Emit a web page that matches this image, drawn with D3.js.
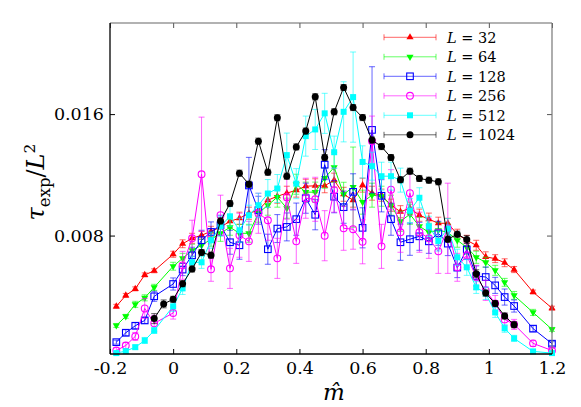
<!DOCTYPE html>
<html><head><meta charset="utf-8">
<script src="https://cdn.jsdelivr.net/npm/d3@7"></script>
<style>
body{margin:0;background:#fff}
svg{display:block}
text{font-family:"DejaVu Serif",serif;fill:#000}
</style>
</head><body>
<svg id="chart" width="581" height="407"></svg>
<script>
// ---- data ----
const mHat = [-0.18,-0.15,-0.12,-0.09,-0.06,-0.03,0,0.03,0.06,0.09,0.12,0.15,0.18,0.21,0.24,0.27,0.3,0.33,0.36,0.39,0.42,0.45,0.48,0.51,0.54,0.57,0.6,0.63,0.66,0.69,0.72,0.75,0.78,0.81,0.84,0.87,0.9,0.93,0.96,0.99,1.02,1.05,1.08,1.11,1.14,1.17,1.2];

const tau32 = [0.00334,0.00406,0.00449,0.00541,0.00568,null,0.00677,0.00746,0.00782,0.00802,0.00828,0.00855,0.00894,0.00914,0.00947,0.00967,0.01033,0.01059,0.01079,0.01099,0.01125,0.01128,0.01128,0.01165,0.01072,0.01033,0.01132,0.01079,0.01066,0.01000,0.00957,0.00980,0.00934,0.00908,0.00881,0.00881,0.00809,0.00769,0.00736,0.00660,0.00648,0.00621,0.00576,null,0.00428,null,0.00322];
const err32 = [0.00013,0.00013,0.00013,0.00013,0.00013,null,0.0002,0.00026,0.00033,0.00026,0.00033,0.00033,0.0004,0.0004,0.0004,0.0004,0.00046,0.00046,0.00046,0.00046,0.00046,0.00046,0.00046,0.00046,0.00046,0.00046,0.00046,0.00046,0.0004,0.0004,0.0004,0.0004,0.0004,0.0004,0.0004,0.00033,0.00033,0.00033,0.00033,0.00033,0.00026,0.00026,0.0002,null,0.00013,null,0.00013];

const tau64 = [0.00208,0.00268,0.00347,0.00390,0.00459,null,0.00598,0.00650,0.00703,0.00736,0.00776,0.00815,0.00855,0.00815,0.00815,0.00947,0.01000,0.01053,0.00980,0.01138,0.01086,0.01086,0.01178,0.01250,0.01072,0.01119,0.01020,0.01066,0.01059,0.01000,0.00894,0.00940,0.00861,0.00822,0.00835,0.00822,0.00769,0.00723,0.00657,0.00624,0.00571,0.00492,0.00406,null,0.00294,null,0.00182];
const err64 = [0.00013,0.00013,0.0002,0.0002,0.0002,null,0.00026,0.00033,0.0004,0.0004,0.00046,0.00053,0.00053,0.00059,0.00059,0.00059,0.00066,0.00066,0.00066,0.00066,0.00066,0.00066,0.00066,0.00099,0.00079,0.00264,0.00079,0.00079,0.00066,0.00066,0.00066,0.00066,0.00059,0.00059,0.00053,0.00053,0.00046,0.00046,0.0004,0.00033,0.00033,0.00026,0.00026,null,0.0002,null,0.00013];

const tau128 = [0.00098,0.00160,0.00206,0.00241,0.00400,null,0.00481,0.00576,0.00670,0.00769,0.00824,0.00868,0.00756,0.00736,0.01130,0.00967,0.00710,0.00846,0.00857,0.00908,0.01046,0.00937,0.01267,0.01056,0.00987,0.01088,0.00851,0.01496,0.01062,0.00908,0.00756,0.00776,0.00795,0.00762,0.00815,0.00747,0.00589,0.00708,0.00534,0.00527,0.00472,0.00395,0.00336,null,0.00187,null,0.00088];
const err128 = [0.00013,0.0002,0.0002,0.0002,0.00033,null,0.0004,0.0004,0.00053,0.00066,0.00066,0.00066,0.00079,0.00092,0.00185,0.00092,0.00099,0.00092,0.00092,0.00106,0.00099,0.00099,0.00099,0.00106,0.00106,0.00119,0.00132,0.00416,0.00106,0.00106,0.00119,0.00106,0.00092,0.00079,0.00079,0.00079,0.00066,0.00066,0.00066,0.00066,0.00053,0.00053,0.0004,null,0.0002,null,0.00013];

const tau256 = [0.00043,0.00076,0.00136,0.00320,0.00222,null,0.00290,0.00604,0.00782,0.01204,0.00578,0.00934,0.00584,0.00802,0.00762,0.00947,0.00901,0.00650,0.01053,0.00762,0.01046,0.01039,0.00799,0.01099,0.00848,0.00842,0.00759,0.01422,0.00729,0.01102,0.00822,0.01079,0.00822,0.00782,0.00696,0.00848,0.00591,0.00670,0.00525,0.00439,0.00353,0.00248,0.00215,null,0.00090,null,0.00043];
const err256 = [0.0002,0.0002,0.00026,0.00066,0.00053,null,0.0004,0.00092,0.00119,0.00376,0.00079,0.00132,0.00132,0.00145,0.00132,0.00132,0.00132,0.00132,0.00145,0.00145,0.00132,0.00145,0.00165,0.00145,0.00145,0.00132,0.00145,0.00165,0.00145,0.00132,0.00132,0.00145,0.00132,0.00132,0.00145,0.00297,0.00092,0.00079,0.00079,0.00066,0.00053,0.0004,0.00033,null,0.0002,null,0.00013];

const tau512 = [0.00026,0.00039,0.00065,0.00109,0.00175,null,0.00334,0.00452,0.00624,0.00624,0.00769,0.00861,0.00927,0.00835,0.00934,0.01000,0.01077,0.01110,0.01330,0.01142,0.01455,0.01499,0.01605,0.01349,0.01615,0.01712,0.01285,0.01257,0.01191,0.01191,0.01165,0.00964,0.01049,0.00861,0.00764,0.00846,0.00657,0.00591,0.00459,0.00419,0.00294,0.00189,0.00123,null,0.00037,null,0.00026];
const err512 = [0.00013,0.00013,0.00013,0.0002,0.0002,null,0.00033,0.0004,0.0004,0.0004,0.00053,0.00066,0.00066,0.00079,0.00066,0.00079,0.00092,0.00092,0.00145,0.00099,0.00132,0.00132,0.00132,0.00106,0.00198,0.00297,0.00106,0.00092,0.00092,0.00092,0.00079,0.00079,0.00066,0.00066,0.00066,0.00066,0.00053,0.00053,0.0004,0.0004,0.00033,0.00026,0.0002,null,0.00013,null,0.00013];

const tau1024 = [null,null,null,null,0.00253,0.00350,0.00380,0.00483,0.00580,0.00688,0.00671,0.00896,0.01011,0.01211,0.01138,0.01422,0.01217,0.01576,0.01191,0.01384,0.01488,0.01714,0.01314,0.01615,0.01775,0.01643,0.01577,0.01429,0.01386,0.01314,0.01168,0.01224,0.01176,0.01165,0.01154,0.00776,0.00809,0.00774,0.00549,0.00421,0.00352,0.00270,0.00213,null,null,null,null];
const err1024 = [null,null,null,null,0.00033,0.00026,0.0002,0.0002,0.0002,0.0002,0.0002,0.0002,0.0002,0.0002,0.0002,0.0002,0.0002,0.0002,0.0002,0.0002,0.0002,0.0002,0.0002,0.0002,0.0002,0.0002,0.0002,0.0002,0.0002,0.0002,0.0002,0.0002,0.0002,0.0002,0.0002,0.0002,0.0002,0.00026,0.00026,0.0002,0.0002,0.0002,0.0002,null,null,null,null];

const sizesL = ["32","64","128","256","512","1024"];
const xTicks = [-0.2,0,0.2,0.4,0.6,0.8,1,1.2];
const yTicks = [0.008,0.016];

// ---- setup ----
const svg = d3.select("#chart");
const xS = d3.scaleLinear().domain([-0.2,1.2]).range([110,552]);
const yS = d3.scaleLinear().domain([0.0002,0.022]).range([354,23]);

const series = [
  {L:sizesL[0], v:tau32,  e:err32,  color:"#ff0000", shape:"triUp"},
  {L:sizesL[1], v:tau64,  e:err64,  color:"#00ff00", shape:"triDown"},
  {L:sizesL[2], v:tau128, e:err128, color:"#0000ff", shape:"openSquare"},
  {L:sizesL[3], v:tau256, e:err256, color:"#ff00ff", shape:"openCircle"},
  {L:sizesL[4], v:tau512, e:err512, color:"#00ffff", shape:"square"},
  {L:sizesL[5], v:tau1024,e:err1024,color:"#000000", shape:"circle"}
];

function drawMarker(g, shape, color, cx, cy){
  if(shape==="triUp"){
    g.append("path").attr("d",d3.symbol(d3.symbolTriangle,22)()).attr("transform",`translate(${cx},${cy})`).attr("fill",color);
  } else if(shape==="triDown"){
    g.append("path").attr("d",d3.symbol(d3.symbolTriangle,22)()).attr("transform",`translate(${cx},${cy}) rotate(180)`).attr("fill",color);
  } else if(shape==="openSquare"){
    g.append("rect").attr("x",cx-3.3).attr("y",cy-3.3).attr("width",6.6).attr("height",6.6).attr("fill","none").attr("stroke",color).attr("stroke-width",1.1);
  } else if(shape==="openCircle"){
    g.append("circle").attr("cx",cx).attr("cy",cy).attr("r",3.4).attr("fill","none").attr("stroke",color).attr("stroke-width",1.1);
  } else if(shape==="square"){
    g.append("rect").attr("x",cx-3).attr("y",cy-3).attr("width",6).attr("height",6).attr("fill",color);
  } else if(shape==="circle"){
    g.append("circle").attr("cx",cx).attr("cy",cy).attr("r",3.5).attr("fill",color);
  }
}

// ---- marks ----
const plot = svg.append("g");
series.forEach(s=>{
  const pts = mHat.map((m,i)=>({m, v:s.v[i], e:s.e[i]})).filter(d=>d.v!==null);
  const g = plot.append("g");
  const eg = g.append("g").attr("stroke",s.color).attr("stroke-opacity",0.6).attr("stroke-width",1);
  pts.forEach(d=>{
    const px = xS(d.m), y1 = yS(d.v+d.e), y2 = yS(d.v-d.e);
    eg.append("line").attr("x1",px).attr("x2",px).attr("y1",y1).attr("y2",y2);
    eg.append("line").attr("x1",px-3).attr("x2",px+3).attr("y1",y1).attr("y2",y1);
    eg.append("line").attr("x1",px-3).attr("x2",px+3).attr("y1",y2).attr("y2",y2);
  });
  g.append("path").datum(pts)
    .attr("d",d3.line().x(d=>xS(d.m)).y(d=>yS(d.v)))
    .attr("fill","none").attr("stroke",s.color).attr("stroke-width",1);
  const mg = g.append("g");
  pts.forEach(d=>drawMarker(mg,s.shape,s.color,xS(d.m),yS(d.v)));
});

// ---- axes ----
const fmtX = d=>String(d);
const axB = svg.append("g").attr("transform","translate(0,354)")
  .call(d3.axisBottom(xS).tickValues(xTicks).tickSize(-5).tickSizeOuter(0).tickPadding(8).tickFormat(fmtX));
const axT = svg.append("g").attr("transform","translate(0,23)")
  .call(d3.axisTop(xS).tickValues(xTicks).tickSize(-5).tickSizeOuter(0).tickFormat(""));
const axL = svg.append("g").attr("transform","translate(110,0)")
  .call(d3.axisLeft(yS).tickValues(yTicks).tickSize(-5).tickSizeOuter(0).tickPadding(6).tickFormat(d3.format(".3f")));
const axR = svg.append("g").attr("transform","translate(552,0)")
  .call(d3.axisRight(yS).tickValues(yTicks).tickSize(-5).tickSizeOuter(0).tickFormat(""));
[axB,axT,axL,axR].forEach(a=>{
  a.select(".domain").remove();
  a.selectAll(".tick line").attr("stroke","#000").attr("stroke-width",1);
  a.selectAll("text").attr("font-family","DejaVu Serif").attr("font-size",17.5).attr("fill","#000");
});
axT.selectAll(".tick line").attr("stroke","#555");
axR.selectAll(".tick line").attr("stroke","#555");

// frame
svg.append("line").attr("x1",110).attr("x2",552).attr("y1",23).attr("y2",23).attr("stroke","#666").attr("stroke-width",1.2);
svg.append("line").attr("x1",552).attr("x2",552).attr("y1",23).attr("y2",354).attr("stroke","#777").attr("stroke-width",1.2);
svg.append("line").attr("x1",110).attr("x2",552).attr("y1",354).attr("y2",354).attr("stroke","#000").attr("stroke-width",1.3);
svg.append("line").attr("x1",110).attr("x2",110).attr("y1",23).attr("y2",354).attr("stroke","#000").attr("stroke-width",1.3);

// ---- legend ----
const leg = svg.append("g");
series.forEach((s,i)=>{
  const ly = 37.3 + i*19.5;
  const g = leg.append("g");
  const lg = g.append("g").attr("stroke",s.color).attr("stroke-opacity",0.6).attr("stroke-width",1);
  lg.append("line").attr("x1",384).attr("x2",436).attr("y1",ly).attr("y2",ly);
  lg.append("line").attr("x1",384).attr("x2",384).attr("y1",ly-3).attr("y2",ly+3);
  lg.append("line").attr("x1",436).attr("x2",436).attr("y1",ly-3).attr("y2",ly+3);
  drawMarker(g,s.shape,s.color,410,ly);
  const t = g.append("text").attr("x",447).attr("y",ly+5.3).attr("font-size",14.5);
  t.append("tspan").attr("font-style","italic").text("L");
  t.append("tspan").text(" = "+s.L);
});

// ---- axis titles ----
const yl = svg.append("text").attr("transform","translate(44,182) rotate(-90)")
  .attr("text-anchor","middle").attr("font-size",24);
yl.append("tspan").attr("font-style","italic").text("τ");
yl.append("tspan").attr("font-size",16.5).attr("dy",5.5).text("exp");
yl.append("tspan").attr("dy",-5.5).text("/");
yl.append("tspan").attr("font-style","italic").text("L");
yl.append("tspan").attr("font-size",15.5).attr("dy",-9).text("2");

svg.append("text").attr("x",334).attr("y",400).attr("text-anchor","middle")
  .attr("font-size",23).attr("font-style","italic").text("m\u0302");
</script>
</body></html>
